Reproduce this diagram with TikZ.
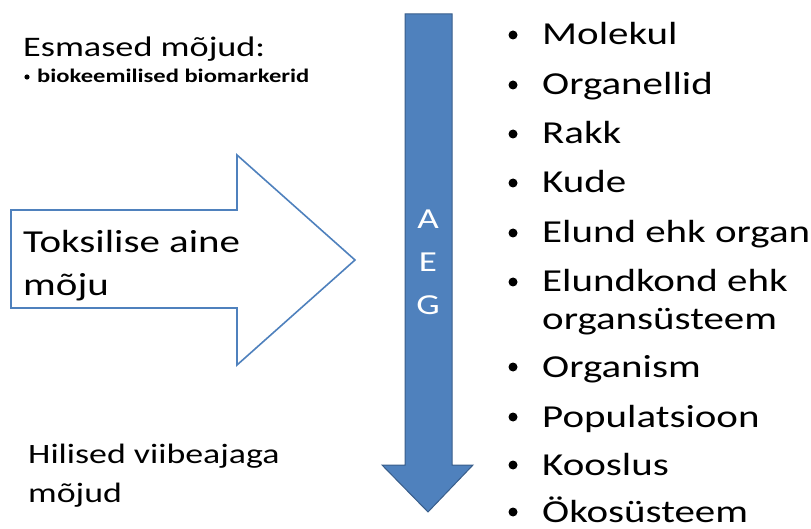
\documentclass[tikz,border=0pt]{standalone}
\usepackage{fontspec}
\setmainfont{Carlito}[FakeStretch=1.28]
\usepackage{xcolor}
\usepackage{tikz}
\usetikzlibrary{positioning}

\definecolor{arrowblue}{HTML}{4F81BD}
\definecolor{arrowedge}{HTML}{385D8A}

\begin{document}
\begin{tikzpicture}[
    x=1pt, y=-1pt,
    every node/.style={inner sep=0pt, anchor=base west},
    leveltext/.style={font=\fontsize{32}{38}\selectfont, text=black},
    sidetext/.style={font=\fontsize{#1}{#1}\selectfont, text=black},
    bulletdot/.style={fill=black, draw=none},
    outlinearrow/.style={draw=arrowblue, line width=1.6pt, fill=white, line join=miter},
    solidarrow/.style={draw=arrowedge, line width=1pt, fill=arrowblue}
]
\useasboundingbox (0,0) rectangle (811,529);

% Left: effect arrow
\draw[outlinearrow] (11,210) -- (237,210) -- (237,155) -- (355,260)
    -- (237,365) -- (237,308) -- (11,308) -- cycle;
\node[sidetext=32] (tox1) at (23,253) {Toksilise aine};
\node[sidetext=32, below=42pt of tox1.base west, anchor=base west] (tox2) {mõju};

% Early and late effects
\node[sidetext=28.3] (early) at (23,57) {Esmased mõjud:};
\fill[bulletdot] (27,77) circle (2.6);
\node[sidetext=19.2] (biomark) at (37,83) {\bfseries biokeemilised biomarkerid};
\node[sidetext=28] (late1) at (28,463) {Hilised viibeajaga};
\node[sidetext=28, below=39pt of late1.base west, anchor=base west] (late2) {mõjud};

% Down arrow (AEG)
\draw[solidarrow] (405,14) -- (452,14) -- (452,465) -- (473,465)
    -- (428,512) -- (382,465) -- (405,465) -- cycle;
\foreach \yy/\ch in {229/A, 272/E, 314/G}
    \node[sidetext=29, text=white, anchor=base] (aeg\ch) at (428,\yy) {\ch};

% Organisation levels
\foreach \yy/\txt/\nm in {45/Molekul/molekul, 95/Organellid/organell, 144/Rakk/rakk,
        193/Kude/kude, 243/Elund ehk organ/elund, 292/Elundkond ehk/elundkond,
        377/Organism/organism, 427/Populatsioon/populatsioon, 475/Kooslus/kooslus,
        522/Ökosüsteem/okosysteem} {
    \fill[bulletdot] (513,\yy-10) circle (4.5);
    \node[leveltext] (\nm) at (542,\yy) {\txt};
}
\node[leveltext, below=38pt of elundkond.base west, anchor=base west] (elundkond2) {organsüsteem};

\end{tikzpicture}
\end{document}
